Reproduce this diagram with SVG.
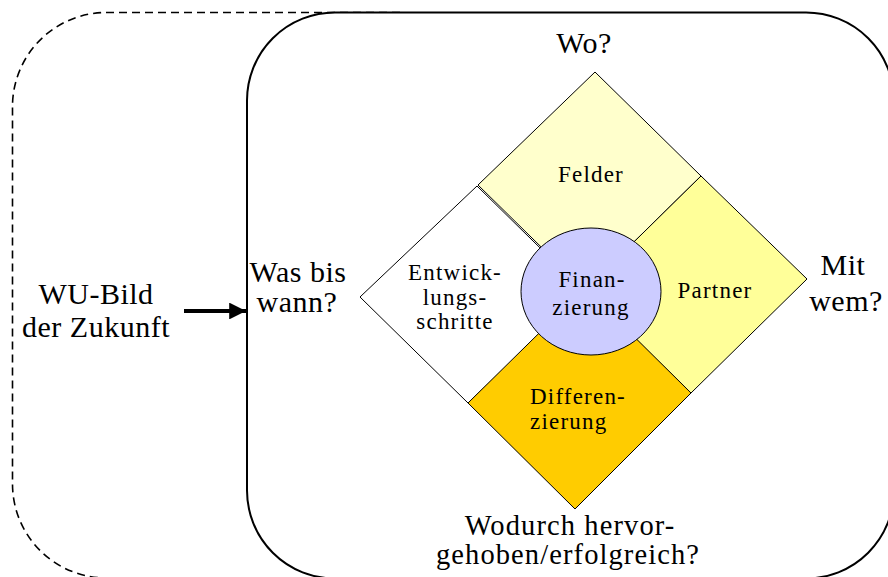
<svg xmlns="http://www.w3.org/2000/svg" width="888" height="577" viewBox="0 0 888 577">
<style>
.big{font-size:30px;letter-spacing:0.5px;text-anchor:middle}
.tight{font-size:28.5px;letter-spacing:1.1px}
.small{font-size:23px;letter-spacing:1.2px;text-anchor:middle}
.q{stroke:#000;stroke-width:1;stroke-linejoin:miter}
</style>
<defs>
<marker id="arr" viewBox="0 0 10 10" refX="10" refY="5" markerWidth="4.2" markerHeight="4.2" orient="auto" markerUnits="strokeWidth">
<path d="M0,0 L10,5 L0,10 z" fill="#000"/>
</marker>
</defs>
<g id="outer-frame">
<path d="M400 12.5 H106.5 A94 94 0 0 0 12.5 106.5 V484 A94 94 0 0 0 106.5 578 H400" fill="none" stroke="#000" stroke-width="1.6" stroke-dasharray="8,5"/>
</g>
<g id="main-frame">
<rect x="247" y="12.5" width="647" height="566" rx="88" ry="88" fill="#fff" stroke="#000" stroke-width="2"/>
</g>
<g font-family="'Liberation Serif', 'DejaVu Serif', serif" fill="#000">
<g id="entwicklung">
<polygon class="q" points="360,297 477,186 585,292 468,403" fill="#fff"/>
<text class="small" x="455" y="280">Entwick-</text>
<text class="small" x="455" y="305">lungs-</text>
<text class="small" x="455" y="329">schritte</text>
</g>
<g id="felder">
<polygon class="q" points="595,72 701,176 585,290 478,185" fill="#FFFFCC"/>
<text class="small" x="591" y="182">Felder</text>
</g>
<g id="partner">
<polygon class="q" points="701,176 807,279 691,393 585,290" fill="#FFFF99"/>
<text class="small" x="715" y="298">Partner</text>
</g>
<g id="differenzierung">
<polygon class="q" points="468,403 585,288 691,393 575,509" fill="#FFCC00"/>
<text class="small" x="530" y="404" text-anchor="start" style="text-anchor:start">Differen-</text>
<text class="small" x="530" y="429" text-anchor="start" style="text-anchor:start">zierung</text>
</g>
<g id="finanzierung">
<ellipse cx="591" cy="291.5" rx="70" ry="63.5" fill="#CCCCFF" stroke="#000" stroke-width="1"/>
<text class="small" x="592" y="287">Finan-</text>
<text class="small" x="591" y="315">zierung</text>
</g>
<g id="label-wo">
<text class="big" x="584" y="53">Wo?</text>
</g>
<g id="label-mit">
<text class="big" x="843" y="275">Mit</text>
<text class="big" x="846" y="311">wem?</text>
</g>
<g id="label-was">
<text class="big" x="298" y="282">Was bis</text>
<text class="big" x="297" y="312">wann?</text>
</g>
<g id="label-wodurch">
<text class="big tight" x="570" y="535">Wodurch hervor-</text>
<text class="big tight" x="568" y="564">gehoben/erfolgreich?</text>
</g>
<g id="wu-bild">
<text class="big" x="96" y="304">WU-Bild</text>
<text class="big" x="96" y="337">der Zukunft</text>
</g>
</g>
<g id="connectors">
<line x1="184" y1="311" x2="246" y2="311" stroke="#000" stroke-width="4" marker-end="url(#arr)"/>
</g>
</svg>
